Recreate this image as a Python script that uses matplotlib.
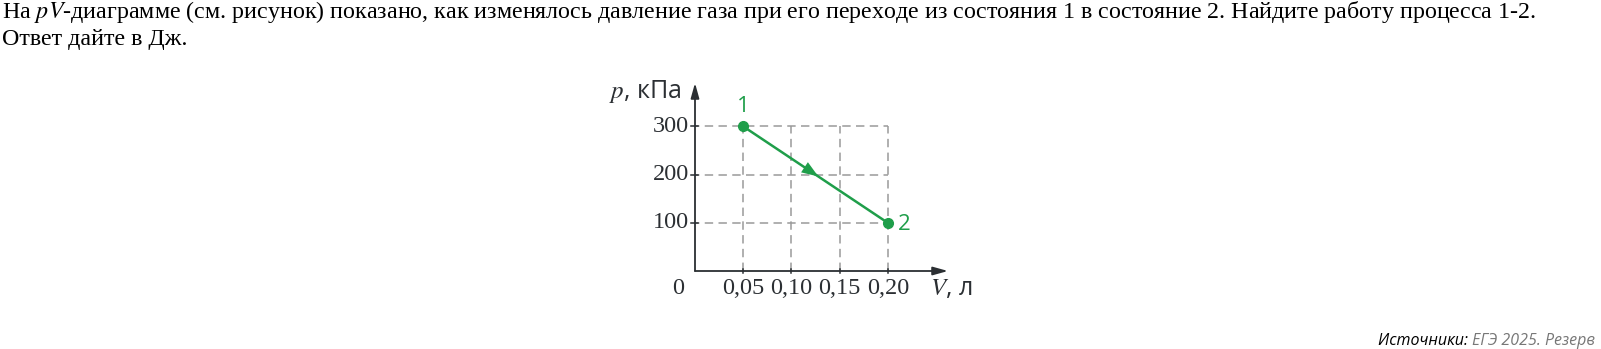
import matplotlib
matplotlib.use("Agg")
import matplotlib.pyplot as plt

V_ticks = [0.05, 0.10, 0.15, 0.20]
V_labels = ["0,05", "0,10", "0,15", "0,20"]
p_ticks = [100, 200, 300]
p_labels = ["100", "200", "300"]
V_pts = [0.05, 0.20]
p_pts = [300, 100]
pt_names = ["1", "2"]

GREEN = "#1f9e4a"
AX = "#2b2f33"
GRID = "#9a9a9a"

plt.rcParams["mathtext.fontset"] = "stix"
W, H = 1601, 349
fig = plt.figure(figsize=(W / 100, H / 100), dpi=100)

# question text
fig.text(2 / W, 1 - 18 / H,
         "На $pV$-диаграмме (см. рисунок) показано, как изменялось давление газа при его переходе из состояния 1 в состояние 2. Найдите работу процесса 1-2.",
         family="Liberation Serif", fontsize=17.3, va="baseline", ha="left", color="black")
fig.text(2 / W, 1 - 45 / H, "Ответ дайте в Дж.",
         family="Liberation Serif", fontsize=17.3, va="baseline", ha="left", color="black")

# source text
t1 = fig.text(1378 / W, 1 - 341 / H, "Источники: ", family="Open Sans", style="italic",
              fontsize=11.5, va="center", ha="left", color="black")
fig.canvas.draw()
bb = t1.get_window_extent()
fig.text(bb.x1 / W, 1 - 341 / H, "ЕГЭ 2025. Резерв", family="Open Sans", style="italic",
         fontsize=11.5, va="center", ha="left", color="#777777")

# axes
x0, y0 = 695, 271
x1, ytop = 948, 83
ax = fig.add_axes([x0 / W, (H - y0) / H, (x1 - x0) / W, (y0 - ytop) / H])
ax.set_xlim(0, 0.2625)
ax.set_ylim(0, 390)
for s in ax.spines.values():
    s.set_visible(False)
ax.set_xticks([])
ax.set_yticks([])
ax.patch.set_alpha(0)

# axis arrows
for xy in [(0.2625, 0), (0, 390)]:
    ax.annotate("", xy=xy, xytext=(0, 0),
                arrowprops=dict(arrowstyle="-|>,head_length=0.9,head_width=0.25", color=AX, lw=1.3,
                                shrinkA=0, shrinkB=0), annotation_clip=False)

# dashed grid
for v in V_ticks:
    ax.plot([v, v], [0, max(p_ticks)], ls=(0, (5.5, 3.5)), color=GRID, lw=1.1, zorder=1)
for p in p_ticks:
    ax.plot([-0.004, max(V_ticks)], [p, p], ls=(0, (5.5, 3.5)), color=GRID, lw=1.1, zorder=1)

# ticks
LBL = 17.5
for v, lab in zip(V_ticks, V_labels):
    ax.plot([v, v], [-5, 5], color=AX, lw=1.1, clip_on=False)
    ax.text(v, -36, lab, family="Liberation Serif", fontsize=LBL, ha="center", va="center", color=AX)
for p, lab in zip(p_ticks, p_labels):
    ax.plot([-0.004, 0.003], [p, p], color=AX, lw=1.1, clip_on=False)
    ax.text(-0.0065, p, lab, family="Liberation Serif", fontsize=LBL, ha="right", va="center", color=AX)
ax.text(-0.018, -36, "0", family="Liberation Serif", fontsize=LBL, ha="center", va="center", color=AX)

# axis labels
ax.text(-0.0895, 372, r"$p$, кПа", family="Open Sans", fontsize=18, ha="left", va="center", color=AX)
ax.text(0.2435, -36, r"$V$, л", family="Open Sans", fontsize=18, ha="left", va="center", color=AX)

# process line
ax.plot(V_pts, p_pts, color=GREEN, lw=1.8, zorder=3)
ax.plot(V_pts, p_pts, "o", color=GREEN, ms=7, zorder=4)
vm = 0.128
pm = p_pts[0] + (vm - V_pts[0]) / (V_pts[1] - V_pts[0]) * (p_pts[1] - p_pts[0])
ax.annotate("", xy=(vm, pm), xytext=(V_pts[0], p_pts[0]),
            arrowprops=dict(arrowstyle="-|>,head_length=0.6,head_width=0.22", color=GREEN, lw=0,
                            shrinkA=0, shrinkB=0, mutation_scale=20), zorder=5)
ax.text(V_pts[0], p_pts[0] + 42, pt_names[0], family="Open Sans", fontsize=16, color=GREEN,
        ha="center", va="center")
ax.text(V_pts[1] + 0.011, p_pts[1] - 3, pt_names[1], family="Open Sans", fontsize=16, color=GREEN,
        ha="left", va="center")

fig.savefig("out.png", dpi=100)
